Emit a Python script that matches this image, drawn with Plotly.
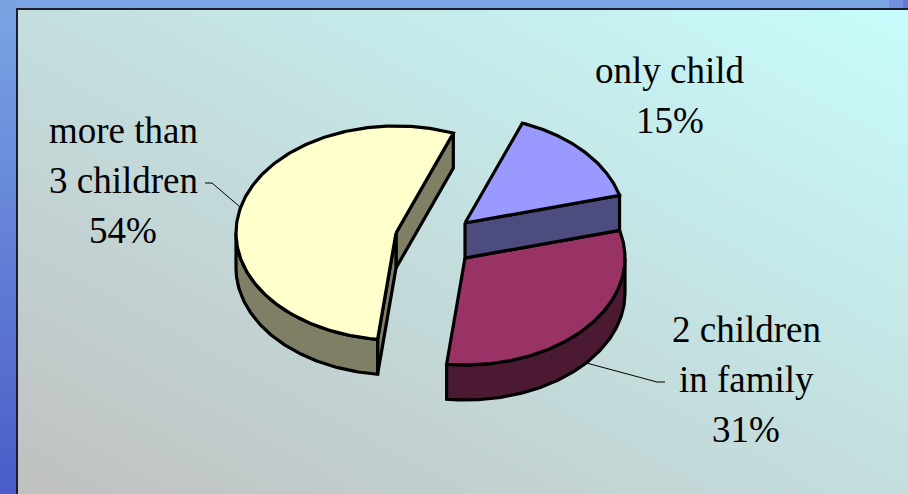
import numpy as np
import plotly.graph_objects as go

# ---------------- data ----------------
CATEGORIES = ["only child", "2 children in family", "more than 3 children"]
LABEL_LINES = [["only child"], ["2 children", "in family"], ["more than", "3 children"]]
VALUES = [15, 31, 54]  # percent

# ---------------- styles / layout ----------------
TOP_COLORS = ["#9999FF", "#993366", "#FFFFCC"]
SIDE_COLORS = ["#4C4C7F", "#4C1933", "#7F7F66"]
W, H = 908, 494
RX, RY, DEPTH = 160, 107, 35
START_ANGLE = 69.0
# top-face centre of every slice (exploded groups)
SLICE_CENTERS = [(465, 223), (465, 223 + DEPTH), (396, 233)]
LABEL_POS = [(670, 83), (746, 342), (123, 143)]   # centre x, first baseline
LINE_GAP = 50
FONT_SIZE = 37
FONT_FAMILY = "Liberation Serif, 'Times New Roman', 'DejaVu Serif', serif"
LEADERS = {1: [(657, 382), (665, 382)], 2: [(212, 183), (205, 183)]}
FRAME_X, FRAME_Y = 17, 9
OUTLINE_W = 3.2

fig = go.Figure()

# ---------- background ----------
nx, ny = 60, 40
xe = np.linspace(FRAME_X, W, nx + 1)
ye = np.linspace(FRAME_Y, H, ny + 1)
xc = (xe[:-1] + xe[1:]) / 2
yc = (ye[:-1] + ye[1:]) / 2
XN = (xc[None, :] - FRAME_X) / (W - FRAME_X)
YN = (yc[:, None] - FRAME_Y) / (H - FRAME_Y)
Z = (XN + (1 - YN)) / 2
fig.add_trace(go.Heatmap(x=xe, y=ye, z=Z, zsmooth="best", zmin=0, zmax=1,
                         colorscale=[[0, "#C0C0C0"], [1, "#C8FCFC"]],
                         showscale=False, hoverinfo="skip"))
yb = np.linspace(0, H, 41)
ybc = (yb[:-1] + yb[1:]) / 2
Zb = (ybc / H)[:, None] * np.ones((1, 1))
fig.add_trace(go.Heatmap(x=[0, FRAME_X], y=yb, z=Zb, zsmooth="best", zmin=0, zmax=1,
                         colorscale=[[0, "#7BA4E4"], [1, "#4A5CC8"]],
                         showscale=False, hoverinfo="skip"))


def rim(cx, cy, th, level):
    t = np.radians(th)
    return cx + RX * np.cos(t), cy - RY * np.sin(t) + level


def poly(xs, ys, fill):
    fig.add_trace(go.Scatter(x=list(xs) + [xs[0]], y=list(ys) + [ys[0]], mode="lines",
                             fill="toself", fillcolor=fill,
                             line=dict(color="black", width=OUTLINE_W),
                             hoverinfo="skip", showlegend=False))


# slice angles (clockwise from START_ANGLE)
angles = []
cum = 0.0
for v in VALUES:
    t1 = START_ANGLE - cum * 3.6
    t0 = t1 - v * 3.6
    angles.append((t0, t1))
    cum += v

draw_order = [2, 1, 0]
for i in draw_order:
    cx, cy = SLICE_CENTERS[i]
    t0, t1 = angles[i]
    # radial faces
    for th, vis in ((t0, np.cos(np.radians(t0)) > 0), (t1, np.cos(np.radians(t1)) < 0)):
        if vis:
            xt, yt = rim(cx, cy, th, 0)
            xb, ybt = rim(cx, cy, th, DEPTH)
            poly([cx, xt, xb, cx], [cy, yt, ybt, cy + DEPTH], SIDE_COLORS[i])
    # outer side (front half only)
    for k in range(-3, 3):
        s0 = max(t0, -180 + 360 * k)
        s1 = min(t1, 0 + 360 * k)
        if s1 - s0 > 0.1:
            th = np.linspace(s0, s1, 120)
            xa, ya = rim(cx, cy, th, 0)
            xb, yb2 = rim(cx, cy, th[::-1], DEPTH)
            poly(np.concatenate([xa, xb]), np.concatenate([ya, yb2]), SIDE_COLORS[i])
    # top face
    th = np.linspace(t0, t1, 200)
    xa, ya = rim(cx, cy, th, 0)
    poly(np.concatenate([[cx], xa]), np.concatenate([[cy], ya]), TOP_COLORS[i])

# leader lines
for i, pts in LEADERS.items():
    cx, cy = SLICE_CENTERS[i]
    m = sum(angles[i]) / 2
    lvl = DEPTH if np.sin(np.radians(m)) < 0 else 0
    px, py = rim(cx, cy, m, lvl)
    fig.add_trace(go.Scatter(x=[px] + [p[0] for p in pts], y=[py] + [p[1] for p in pts],
                             mode="lines", line=dict(color="black", width=1),
                             hoverinfo="skip", showlegend=False))

# labels
annotations = []
for i, lines in enumerate(LABEL_LINES):
    txt = lines + [f"{VALUES[i]}%"]
    x0, b0 = LABEL_POS[i]
    for j, t in enumerate(txt):
        annotations.append(dict(x=x0, y=b0 + j * LINE_GAP - 0.33 * FONT_SIZE, text=t,
                                xref="x", yref="y", showarrow=False,
                                xanchor="center", yanchor="middle",
                                font=dict(family=FONT_FAMILY, size=FONT_SIZE, color="black")))

shapes = [
    dict(type="rect", x0=889, x1=903, y0=0, y1=FRAME_Y - 1, fillcolor="#7090DE", line_width=0, layer="above"),
    dict(type="rect", x0=903, x1=908, y0=0, y1=FRAME_Y - 1, fillcolor="#6078D4", line_width=0, layer="above"),
    dict(type="path", path=f"M {FRAME_X},{H} L {FRAME_X},{FRAME_Y} L {W},{FRAME_Y}",
         line=dict(color="#1C1C30", width=2), layer="above"),
]

fig.update_layout(
    width=W, height=H, margin=dict(l=0, r=0, t=0, b=0),
    paper_bgcolor="#7BA4E4", plot_bgcolor="#7BA4E4",
    xaxis=dict(range=[0, W], visible=False, fixedrange=True),
    yaxis=dict(range=[H, 0], visible=False, fixedrange=True),
    annotations=annotations, shapes=shapes, showlegend=False,
)
fig.write_html("out.html", config={"displayModeBar": False},
               post_script="document.body.style.margin='0';document.body.style.overflow='hidden';")
